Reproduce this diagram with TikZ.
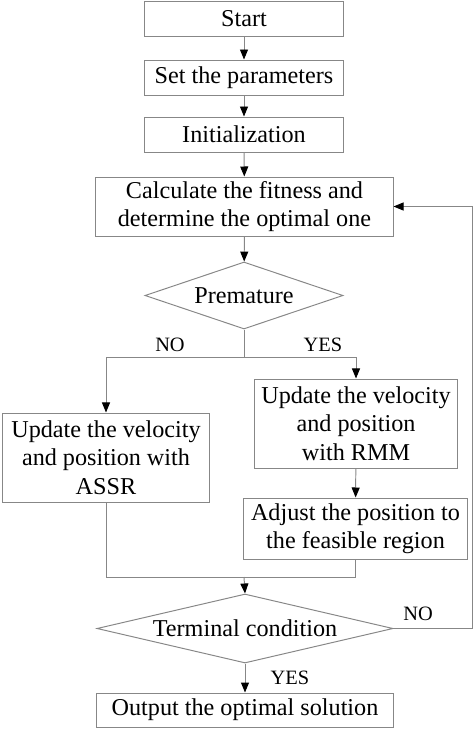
\documentclass[tikz,border=0pt]{standalone}
\usepackage{fontspec}
\setmainfont{Liberation Serif}
\usepackage{xcolor}
\usepackage{tikz}
\usetikzlibrary{arrows.meta,shapes,positioning}
\definecolor{flowgray}{RGB}{135,135,135}

\begin{document}
\begin{tikzpicture}[
    x=0.025cm, y=-0.025cm,
    box/.style={rectangle, draw=flowgray, line width=0.7pt, inner sep=0pt, align=center, font=\fontsize{17.2pt}{20.3pt}\selectfont},
    decision/.style={diamond, draw=flowgray, line width=0.7pt, inner sep=0pt, font=\fontsize{17.2pt}{20.3pt}\selectfont},
    arrow/.style={-{Triangle[length=0.25cm, width=0.2cm, color=black]}, draw=flowgray, line width=0.7pt},
    link/.style={draw=flowgray, line width=0.7pt},
    tag/.style={font=\fontsize{14.5pt}{17pt}\selectfont}
]
    \useasboundingbox (0,0) rectangle (474,730);

    \node[box, minimum width=4.95cm, minimum height=0.875cm] (start) at (244,18.5) {Start};
    \node[box, minimum width=4.95cm, minimum height=0.875cm] (param) at (244,77.5) {Set the parameters};
    \node[box, minimum width=4.95cm, minimum height=0.875cm] (init) at (244,134.5) {Initialization};
    \node[box, minimum width=7.425cm, minimum height=1.475cm] (fit) at (244.5,206.5) {Calculate the fitness and\\determine the optimal one};
    \node[decision, aspect=3, minimum width=4.95cm, minimum height=1.675cm] (prem) at (244,295.5) {Premature};
    \node[box, minimum width=5.15cm, minimum height=2.225cm] (assr) at (106,457.5) {Update the velocity\\and position with\\ASSR};
    \node[box, minimum width=5.05cm, minimum height=2.225cm] (rmm) at (356,423.5) {Update the velocity\\and position\\with RMM};
    \node[box, minimum width=5.575cm, minimum height=1.525cm] (adjust) at (355.5,528.5) {Adjust the position to\\the feasible region};
    \node[decision, aspect=4.3, minimum width=7.4cm, minimum height=1.725cm] (term) at (245,628.5) {Terminal condition};
    \node[box, minimum width=7.4cm, minimum height=0.85cm] (out) at (245,710) {Output the optimal solution};

    % branch and merge points
    \coordinate (split) at (244,357);
    \coordinate (merge) at (244,577);
    \coordinate (back) at (472,628.5);

    \draw[arrow] (start) -- (param);
    \draw[arrow] (param) -- (init);
    \draw[arrow] (init) -- (fit);
    \draw[arrow] (fit) -- (prem);
    \draw[link] (prem.south) -- (split);
    \draw[arrow] (split) -| (assr.north);
    \draw[arrow] (split) -| (rmm.north);
    \draw[arrow] (rmm) -- (adjust);
    \draw[link] (assr.south) |- (merge);
    \draw[link] (adjust.south) |- (merge);
    \draw[arrow] (merge) -- (term.north);
    \draw[arrow] (term) -- (out);
    \draw[arrow] (term.east) -- (back) |- (fit.east);

    \node[tag] (no1) at (170,345) {NO};
    \node[tag] (yes1) at (323,345) {YES};
    \node[tag] (no2) at (418,614) {NO};
    \node[tag] (yes2) at (290,678) {YES};
\end{tikzpicture}
\end{document}
